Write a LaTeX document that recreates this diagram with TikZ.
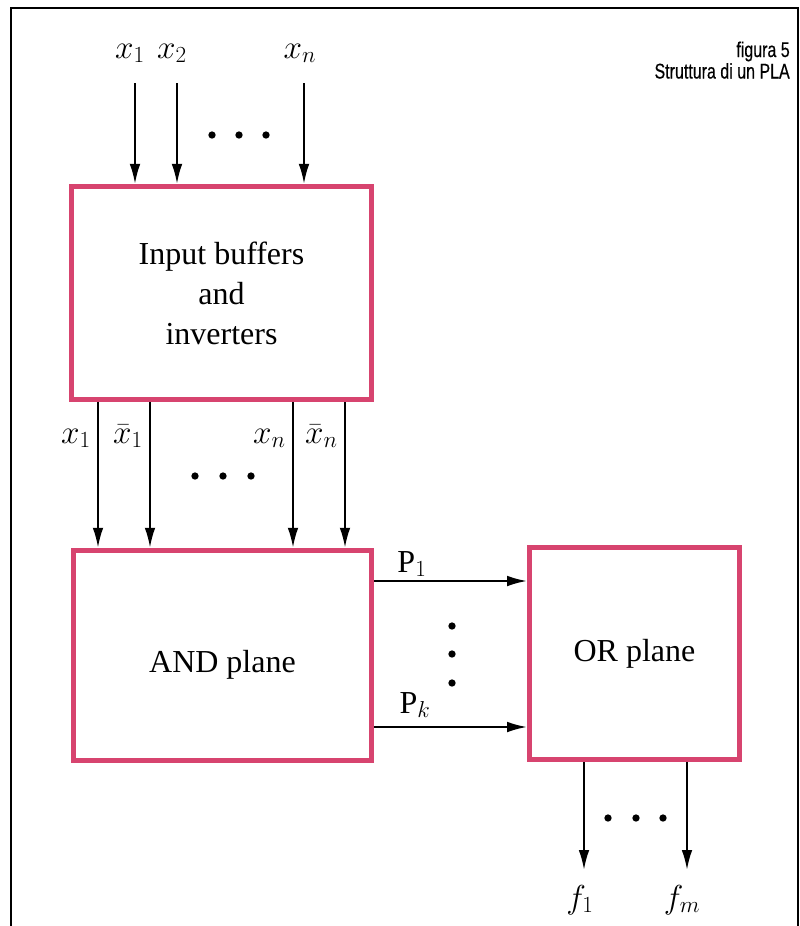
\documentclass[tikz,border=0pt]{standalone}
\usepackage{fontspec}
\setmainfont{Liberation Serif}
\newfontfamily\capfont[FakeStretch=0.75, FakeBold=0.4]{Liberation Sans}
\usepackage{tikz}
\usetikzlibrary{arrows.meta, positioning}
\definecolor{planecolor}{HTML}{D7446F}

\tikzset{
  plane/.style={draw=planecolor, line width=3.6pt, inner sep=0pt, align=center,
    font=\fontsize{24}{30}\selectfont},
  sig/.style={line width=1.6pt, -{Latex[length=15pt, width=8pt]}},
  lbl/.style={font=\fontsize{24}{30}\selectfont, inner sep=0pt, anchor=base},
  bigdot/.style={circle, fill, inner sep=0pt, minimum size=5.5pt},
  capt/.style={font=\capfont\fontsize{16}{18}\selectfont, inner sep=0pt, anchor=base east}
}

\begin{document}
\begin{tikzpicture}[x=0.75pt, y=-0.75pt]
  \useasboundingbox (0,0) rectangle (800,926);

  % Frame and caption
  \draw[line width=1.5pt] (11,926) -- (11,8) -- (798,8) -- (798,926);
  \node[capt] (fig) at (790,57) {figura 5};
  \node[capt] (title) at (790,78.5) {Struttura di un PLA};

  % Blocks
  \node[plane, minimum width=225pt, minimum height=160pt] (buf) at (221.5,293)
    {Input buffers\\and\\inverters};
  \node[plane, minimum width=224pt, minimum height=158pt, text height=30pt] (andp) at (222.5,655.5)
    {AND plane};
  \node[plane, minimum width=157.5pt, minimum height=159pt] (orp) at (634.5,653.5)
    {OR plane};

  % Inputs
  \foreach \x/\lab/\lx [count=\i] in {135/{x_1}/130, 177/{x_2}/172, 304/{x_n}/300} {
    \node[lbl] (in\i) at (\lx,58) {$\lab$};
    \coordinate (s\i) at (\x,83);
    \draw[sig] (s\i) -- (s\i |- buf.north);
  }
  \foreach \x [count=\i] in {212,239,266}
    \node[bigdot] (da\i) at (\x,135) {};

  % Literals to the AND plane
  \foreach \x/\lab [count=\i] in {98/{x_1}, 150/{\bar{x}_1}, 293/{x_n}, 345/{\bar{x}_n}} {
    \node[lbl, anchor=base east] (lit\i) at (\x-7,443) {$\lab$};
    \coordinate (t\i) at (\x,0);
    \draw[sig] (buf.south -| t\i) -- (andp.north -| t\i);
  }
  \foreach \x [count=\i] in {195,223,251}
    \node[bigdot] (db\i) at (\x,476) {};

  % Product terms
  \coordinate (r1) at (0,581);
  \coordinate (rk) at (0,727);
  \draw[sig] (andp.east |- r1) -- (orp.west |- r1);
  \draw[sig] (andp.east |- rk) -- (orp.west |- rk);
  \node[lbl] (p1) at (412,572) {P$_1$};
  \node[lbl] (pk) at (415,713) {P$_k$};
  \foreach \y [count=\i] in {626,654,683}
    \node[bigdot] (dc\i) at (452,\y) {};

  % Outputs
  \foreach \x/\lab/\lx [count=\i] in {584/{f_1}/580, 687/{f_m}/682} {
    \coordinate (e\i) at (\x,870);
    \draw[sig] (orp.south -| e\i) -- (e\i);
    \node[lbl] (out\i) at (\lx,908) {$\lab$};
  }
  \foreach \x [count=\i] in {608,636,663}
    \node[bigdot] (dd\i) at (\x,818) {};
\end{tikzpicture}
\end{document}
